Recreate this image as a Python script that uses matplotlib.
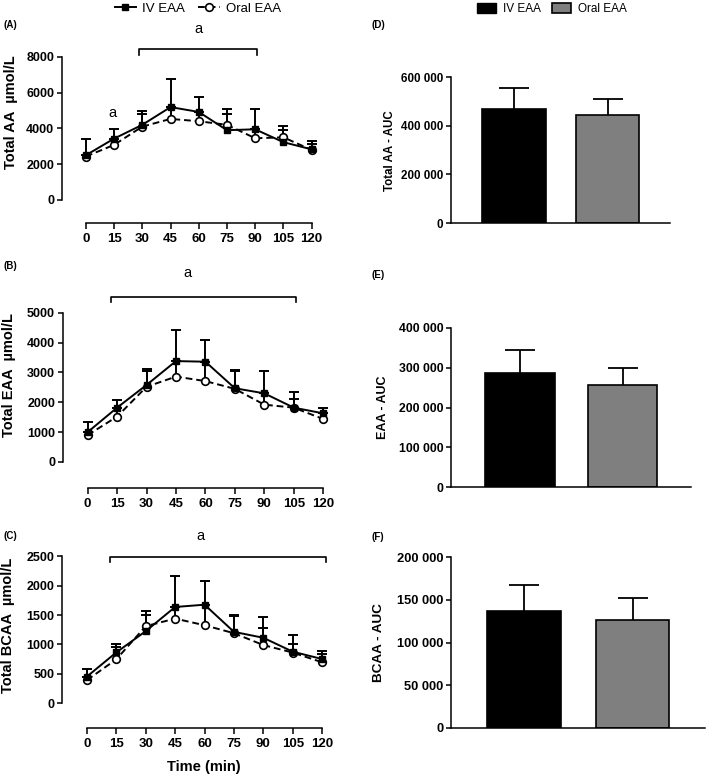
import numpy as np
import matplotlib
matplotlib.use("Agg")
import matplotlib.pyplot as plt
from matplotlib.lines import Line2D
from matplotlib.patches import Patch
from matplotlib.ticker import FuncFormatter

plt.rcParams['font.family'] = ['Liberation Sans', 'DejaVu Sans']

# time course data (umol/L)
times = [0, 15, 30, 45, 60, 75, 90, 105, 120]

aa_iv = [2500, 3430, 4200, 5190, 4920, 3900, 3950, 3230, 2830]
aa_iv_top = [3400, 3960, 4980, 6750, 5730, 4830, 5090, 4120, 3300]
aa_oral = [2430, 3080, 4100, 4530, 4400, 4200, 3450, 3500, 2800]
aa_oral_top = [2500, 3430, 4810, 5190, 4920, 5090, 3950, 3920, 3130]

eaa_iv = [1000, 1820, 2580, 3380, 3360, 2470, 2300, 1820, 1630]
eaa_iv_top = [1340, 2075, 3100, 4420, 4085, 3070, 3050, 2330, 1820]
eaa_oral = [900, 1520, 2520, 2860, 2710, 2450, 1920, 1820, 1440]
eaa_oral_top = [1000, 1820, 3050, 3380, 3360, 3040, 2300, 2100, 1630]

bcaa_iv = [451, 863, 1225, 1637, 1676, 1213, 1112, 875, 750]
bcaa_iv_top = [581, 999, 1563, 2161, 2088, 1507, 1467, 1168, 886]
bcaa_oral = [390, 745, 1310, 1439, 1326, 1190, 988, 860, 694]
bcaa_oral_top = [451, 960, 1501, 1637, 1676, 1480, 1281, 999, 835]

# AUC data
groups = ['IV EAA', 'Oral EAA']
aa_auc = [468000, 444500]
aa_auc_top = [553000, 509000]
eaa_auc = [287000, 256000]
eaa_auc_top = [344000, 300000]
bcaa_auc = [137200, 126700]
bcaa_auc_top = [167300, 151700]

W, H = 709, 775
fig = plt.figure(figsize=(W / 100, H / 100), dpi=100)


def box(l, t, r, b):
    return [l / W, 1 - b / H, (r - l) / W, (b - t) / H]


def line_panel(rect, ylim, yticks, iv, iv_top, oral, oral_top, ylabel, lab_xy, fs_x=9.5):
    ax = fig.add_axes(rect)
    ax.vlines(times, iv, iv_top, color='black', lw=1.4, zorder=2)
    ax.plot(times, iv_top, ls='none', marker='_', ms=7, mew=1.4, color='black', zorder=2)
    ax.vlines(times, oral, oral_top, color='black', lw=1.4, zorder=2)
    ax.plot(times, oral_top, ls='none', marker='_', ms=7, mew=1.4, color='black', zorder=2)
    ax.plot(times, oral, ls=(0, (3.5, 2)), lw=1.4, color='black', marker='o', ms=5.5,
            mfc='white', mec='black', mew=1.2, zorder=3)
    ax.plot(times, iv, ls='-', lw=1.4, color='black', marker='s', ms=4.8,
            mfc='black', mec='black', zorder=4)
    ax.set_xlim(-12.7, 125)
    ax.set_ylim(*ylim)
    for s in ['top', 'right']:
        ax.spines[s].set_visible(False)
    ax.spines['left'].set_bounds(0, yticks[-1])
    ax.spines['bottom'].set_bounds(0, 120)
    for s in ['left', 'bottom']:
        ax.spines[s].set_linewidth(1.1)
    ax.set_yticks(yticks)
    ax.set_xticks(times)
    ax.tick_params(axis='y', length=3.5, width=1.1, labelsize=9, pad=2)
    ax.tick_params(axis='x', length=4.5, width=1.1, labelsize=fs_x, pad=3)
    for t in ax.get_xticklabels() + ax.get_yticklabels():
        t.set_fontweight('bold')
    fig.text(lab_xy[0] / W, 1 - lab_xy[1] / H, ylabel, rotation=90, fontsize=10.5,
             fontweight='bold', ha='center', va='center')
    return ax


def bracket(ax, x0, x1, y, ydrop, label_xy):
    ax.plot([x0, x0, x1, x1], [ydrop, y, y, ydrop], color='black', lw=1.2, clip_on=False)
    ax.text(label_xy[0], label_xy[1], 'a', fontsize=10.5, ha='center', va='center')


axA = line_panel(box(62, 21, 321, 223), (-1285, 10000), [0, 2000, 4000, 6000, 8000],
                 aa_iv, aa_iv_top, aa_oral, aa_oral_top, 'Total AA  \u00b5mol/L', (11, 112))
bracket(axA, 28, 91, 8430, 8100, (60, 9550))
axA.text(14, 4860, 'a', fontsize=10.5, ha='center', va='center')

axB = line_panel(box(62.7, 265, 333, 488), (-872, 6600), [0, 1000, 2000, 3000, 4000, 5000],
                 eaa_iv, eaa_iv_top, eaa_oral, eaa_oral_top, 'Total EAA  \u00b5mol/L', (9, 375))
bracket(axB, 12, 106, 5540, 5350, (51, 6320))

axC = line_panel(box(62, 527, 332, 728), (-425, 3000), [0, 500, 1000, 1500, 2000, 2500],
                 bcaa_iv, bcaa_iv_top, bcaa_oral, bcaa_oral_top, 'Total BCAA  \u00b5mol/L', (8, 625))
bracket(axC, 12, 122, 2494, 2410, (58, 2840))
fig.text(204 / W, 1 - 767 / H, 'Time (min)', fontsize=10.5, fontweight='bold', ha='center', va='center')


def space_thousands(v, pos):
    v = int(round(v))
    if v == 0:
        return '0'
    return '{:,}'.format(v).replace(',', ' ')


def bar_panel(rect, top, yticks, vals, tops, ylabel, lab_xy, fs_tick, fs_lab):
    ax = fig.add_axes(rect)
    xs = np.arange(len(groups))
    colors = ['black', '#7f7f7f']
    ax.vlines(xs, vals, tops, color='black', lw=1.3, zorder=1)
    ax.plot(xs, tops, ls='none', marker='_', ms=21, mew=1.3, color='black', zorder=1)
    ax.bar(xs, vals, width=0.68, color=colors, edgecolor='black', linewidth=1.2, zorder=2)
    ax.set_xlim(-0.674, 1.668)
    ax.set_ylim(0, top)
    for s in ['top', 'right']:
        ax.spines[s].set_visible(False)
    for s in ['left', 'bottom']:
        ax.spines[s].set_linewidth(1.1)
    ax.set_xticks([])
    ax.set_yticks(yticks)
    ax.yaxis.set_major_formatter(FuncFormatter(space_thousands))
    ax.tick_params(axis='y', length=3.5, width=1.1, labelsize=fs_tick, pad=2)
    for t in ax.get_yticklabels():
        t.set_fontweight('bold')
    fig.text(lab_xy[0] / W, 1 - lab_xy[1] / H, ylabel, rotation=90, fontsize=fs_lab,
             fontweight='bold', ha='center', va='center')
    return ax


bar_panel(box(451, 77, 670, 223), 600000, [0, 200000, 400000, 600000],
          aa_auc, aa_auc_top, 'Total AA - AUC', (390, 151), 8.4, 8.3)
bar_panel(box(451, 328, 691, 487), 400000, [0, 100000, 200000, 300000, 400000],
          eaa_auc, eaa_auc_top, 'EAA - AUC', (382.5, 407.5), 8.8, 9)
bar_panel(box(451, 557, 705, 728), 200000, [0, 50000, 100000, 150000, 200000],
          bcaa_auc, bcaa_auc_top, 'BCAA - AUC', (379, 643), 9.3, 9.7)

# panel letters
for lab, x, y in [('(A)', 10, 25), ('(B)', 10, 266), ('(C)', 10, 536),
                  ('(D)', 378, 25), ('(E)', 378, 275), ('(F)', 378, 537)]:
    fig.text(x / W, 1 - y / H, lab, fontsize=7, fontweight='bold', ha='center', va='center')

# legends
line_handles = [
    Line2D([], [], color='black', lw=1.4, marker='s', ms=4.8),
    Line2D([], [], color='black', lw=1.4, ls=(0, (3.5, 2)), marker='o', ms=5.5,
           mfc='white', mew=1.2),
]
fig.legend(line_handles, groups, loc='center', bbox_to_anchor=(198 / W, 1 - 9 / H),
           ncol=2, frameon=False, fontsize=9.5, handlelength=1.6, handletextpad=0.5,
           columnspacing=1.0, borderpad=0)
bar_handles = [Patch(facecolor='black', edgecolor='black'),
               Patch(facecolor='#7f7f7f', edgecolor='black', linewidth=1.2)]
fig.legend(bar_handles, groups, loc='center', bbox_to_anchor=(552 / W, 1 - 9 / H),
           ncol=2, frameon=False, fontsize=8.5, handlelength=1.6, handleheight=0.9,
           handletextpad=0.6, columnspacing=1.0, borderpad=0)

fig.savefig('out.png', dpi=100)
